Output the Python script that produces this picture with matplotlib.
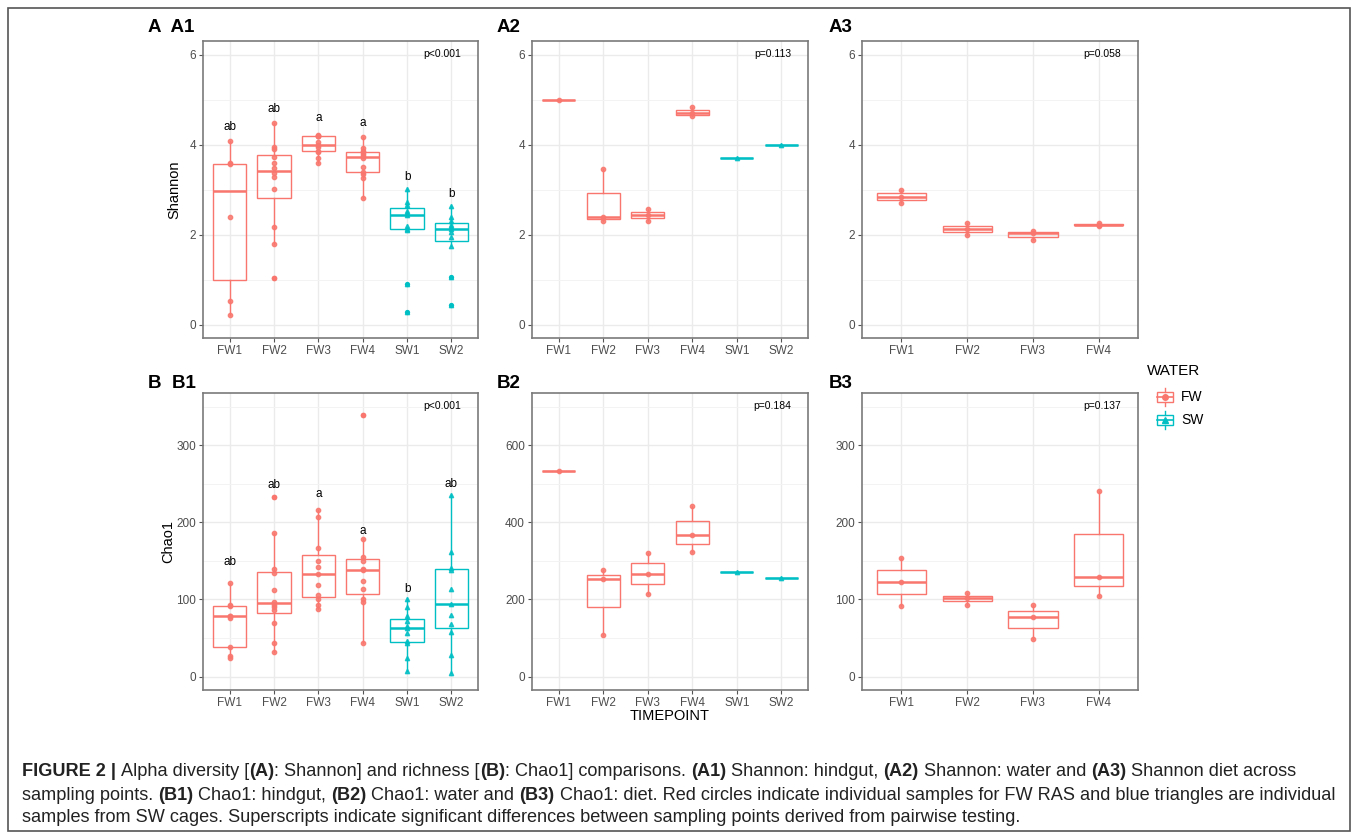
import numpy as np
import matplotlib
matplotlib.use('Agg')
import matplotlib.pyplot as plt
from matplotlib.patches import Rectangle
from matplotlib import font_manager

# categories
timepoints6 = ['FW1', 'FW2', 'FW3', 'FW4', 'SW1', 'SW2']
timepoints4 = ['FW1', 'FW2', 'FW3', 'FW4']

# A1 Shannon: hindgut
a1_groups = [
    [0.21, 0.52, 2.39, 3.56, 3.58, 4.07],
    [1.04, 1.78, 2.16, 3.02, 3.28, 3.36, 3.47, 3.58, 3.73, 3.91, 3.95, 4.48],
    [3.58, 3.69, 3.84, 3.86, 3.95, 4.0, 4.05, 4.18, 4.19, 4.2, 4.22],
    [2.82, 3.25, 3.35, 3.40, 3.5, 3.7, 3.75, 3.78, 3.83, 3.86, 3.92, 4.17],
    [0.28, 0.89, 2.1, 2.13, 2.2, 2.43, 2.47, 2.52, 2.65, 2.73, 3.02],
    [0.44, 1.05, 1.75, 1.95, 2.05, 2.13, 2.17, 2.22, 2.3, 2.4, 2.63],
]
a1_letters = ['ab', 'ab', 'a', 'a', 'b', 'b']
a1_letter_y = [4.38, 4.79, 4.58, 4.48, 3.28, 2.9]

# A2 Shannon: water
a2_groups = [[4.98], [2.3, 2.39, 3.45], [2.3, 2.43, 2.56], [4.63, 4.69, 4.83], [3.70], [3.98]]
# A3 Shannon: diet
a3_groups = [[2.69, 2.84, 2.99], [1.99, 2.12, 2.26], [1.87, 2.04, 2.08], [2.2, 2.21, 2.26]]

# B1 Chao1: hindgut
b1_groups = [
    [24, 26, 38, 76, 78, 79, 92, 93, 121],
    [32, 43, 70, 86, 90, 93, 97, 112, 134, 140, 186, 233],
    [88, 93, 100, 106, 119, 133, 142, 150, 166, 207, 216],
    [43, 96, 100, 114, 124, 138, 140, 150, 155, 178, 339],
    [7, 24, 44, 46, 56, 63, 66, 72, 78, 90, 100],
    [5, 28, 58, 68, 80, 94, 113, 138, 141, 162, 235],
]
b1_letters = ['ab', 'ab', 'a', 'a', 'b', 'ab']
b1_letter_y = [148, 248, 237, 188, 113, 249]

# B2 Chao1: water
b2_groups = [[532], [108, 253, 275], [215, 267, 319], [322, 366, 442], [270], [255]]
# B3 Chao1: diet
b3_groups = [[91, 122, 153], [93, 102, 108], [49, 77, 93], [105, 129, 241]]

p_values = ['p<0.001', 'p=0.113', 'p=0.058', 'p<0.001', 'p=0.184', 'p=0.137']

FW_COL = '#F8766D'
SW_COL = '#00BFC4'

W, H = 1358, 835
plt.rcParams['font.family'] = ['Liberation Sans', 'DejaVu Sans']
fig = plt.figure(figsize=(W / 100, H / 100), dpi=100)


def px_axes(left, top, right, bottom):
    return fig.add_axes([left / W, 1 - bottom / H, (right - left) / W, (bottom - top) / H])


def draw_panel(ax, cats, groups, ylim, major, minor, ptext, letters=None, letter_y=None):
    for i, (cat, vals) in enumerate(zip(cats, groups)):
        col = FW_COL if cat.startswith('FW') else SW_COL
        mk = 'o' if cat.startswith('FW') else '^'
        ax.boxplot([vals], positions=[i + 1], widths=0.75, showcaps=False,
                   patch_artist=True,
                   boxprops=dict(facecolor='none', edgecolor=col, lw=1.0),
                   medianprops=dict(color=col, lw=1.8),
                   whiskerprops=dict(color=col, lw=1.0),
                   flierprops=dict(marker='o', markerfacecolor=col,
                                   markeredgecolor='none', markersize=3.8))
        ax.plot(np.full(len(vals), i + 1), vals, ls='none', marker=mk,
                color=col, ms=3.1, alpha=0.85, zorder=3)
    if letters is not None:
        for i, (lt, ly) in enumerate(zip(letters, letter_y)):
            ax.text(i + 1, ly, lt, ha='center', va='center', fontsize=8.5)
    ax.set_xlim(0.4, len(cats) + 0.6)
    ax.set_ylim(*ylim)
    ax.set_xticks(range(1, len(cats) + 1))
    ax.set_xticklabels(cats)
    ax.set_yticks(major)
    ax.set_yticks(minor, minor=True)
    ax.tick_params(which='minor', left=False)
    ax.grid(which='major', color='#EBEBEB', lw=1.0)
    ax.grid(which='minor', axis='y', color='#F3F3F3', lw=0.7)
    ax.set_axisbelow(True)
    for s in ax.spines.values():
        s.set_color('#7A7A7A')
        s.set_linewidth(1.2)
    ax.tick_params(which='major', length=3, color='#555555', labelcolor='#4D4D4D',
                   labelsize=8.5, pad=2)
    ax.text(0.94, 0.955, ptext, transform=ax.transAxes, ha='right', va='center',
            fontsize=7.5)


a_lim, a_major, a_minor = (-0.3, 6.3), [0, 2, 4, 6], [1, 3, 5]
b_lim, b_major, b_minor = (-17.5, 367.5), [0, 100, 200, 300], [50, 150, 250, 350]
b2_lim, b2_major, b2_minor = (-35, 735), [0, 200, 400, 600], [100, 300, 500, 700]

ax_a1 = px_axes(203, 41, 478, 338)
ax_a2 = px_axes(532, 41, 808, 338)
ax_a3 = px_axes(862, 41, 1138, 338)
ax_b1 = px_axes(203, 393, 478, 690)
ax_b2 = px_axes(532, 393, 808, 690)
ax_b3 = px_axes(862, 393, 1138, 690)

draw_panel(ax_a1, timepoints6, a1_groups, a_lim, a_major, a_minor, p_values[0], a1_letters, a1_letter_y)
draw_panel(ax_a2, timepoints6, a2_groups, a_lim, a_major, a_minor, p_values[1])
draw_panel(ax_a3, timepoints4, a3_groups, a_lim, a_major, a_minor, p_values[2])
draw_panel(ax_b1, timepoints6, b1_groups, b_lim, b_major, b_minor, p_values[3], b1_letters, b1_letter_y)
draw_panel(ax_b2, timepoints6, b2_groups, b2_lim, b2_major, b2_minor, p_values[4])
draw_panel(ax_b3, timepoints4, b3_groups, b_lim, b_major, b_minor, p_values[5])

ax_a1.set_ylabel('Shannon', fontsize=10.5, labelpad=6)
ax_b1.set_ylabel('Chao1', fontsize=10.5, labelpad=1)
ax_b2.set_xlabel('TIMEPOINT', fontsize=10.5, labelpad=0)

# overlay in pixel coordinates for labels, legend and frame
over = fig.add_axes([0, 0, 1, 1])
over.set_xlim(0, W)
over.set_ylim(H, 0)
over.axis('off')

for lab, x, y in [('A  A1', 148, 27), ('A2', 497, 27), ('A3', 829, 27),
                  ('B  B1', 148, 384), ('B2', 497, 384), ('B3', 829, 384)]:
    over.text(x, y, lab, fontsize=13.5, fontweight='bold', ha='left', va='center')

# legend
over.text(1147, 371, 'WATER', fontsize=11, ha='left', va='center')
for lab, col, mk, ky in [('FW', FW_COL, 'o', 397), ('SW', SW_COL, '^', 420)]:
    kx = 1165
    over.add_patch(Rectangle((kx - 8, ky - 5), 16, 10, fill=False, edgecolor=col, lw=1.0))
    over.plot([kx, kx], [ky - 9, ky - 5], color=col, lw=1.0)
    over.plot([kx, kx], [ky + 5, ky + 9], color=col, lw=1.0)
    over.plot([kx - 8, kx + 8], [ky, ky], color=col, lw=1.2)
    over.plot([kx], [ky], marker=mk, color=col, ms=4)
    over.text(1181, ky, lab, fontsize=10, ha='left', va='center')

# outer frame
over.add_patch(Rectangle((8, 8), W - 16, H - 12, fill=False, edgecolor='#555555', lw=1.2))

# caption with bold runs
cap_lines = [
    [('FIGURE 2 |', 'bold'), (' Alpha diversity [', 'normal'), ('(A)', 'bold'),
     (': Shannon] and richness [', 'normal'), ('(B)', 'bold'),
     (': Chao1] comparisons. ', 'normal'), ('(A1)', 'bold'),
     (' Shannon: hindgut, ', 'normal'), ('(A2)', 'bold'), (' Shannon: water and ', 'normal'),
     ('(A3)', 'bold'), (' Shannon diet across', 'normal')],
    [('sampling points. ', 'normal'), ('(B1)', 'bold'), (' Chao1: hindgut, ', 'normal'),
     ('(B2)', 'bold'), (' Chao1: water and ', 'normal'), ('(B3)', 'bold'),
     (' Chao1: diet. Red circles indicate individual samples for FW RAS and blue triangles are individual',
      'normal')],
    [('samples from SW cages. Superscripts indicate significant differences between sampling points derived from pairwise testing.',
      'normal')],
]
cap_y = [772, 795, 818]

cap_fams = ['Liberation Sans Narrow', 'Liberation Sans']
avail = {f.name for f in font_manager.fontManager.ttflist}
cap_fam = [f for f in cap_fams if f in avail][:1] + ['DejaVu Sans']

renderer = fig.canvas.get_renderer()


def line_width(runs, fs):
    tot = 0
    for txt, wt in runs:
        t = over.text(0, 0, txt.replace(' ', '\u00a0'), fontsize=fs, fontweight=wt, family=cap_fam)
        tot += t.get_window_extent(renderer).width
        t.remove()
    return tot


fs0 = 10
w0 = line_width(cap_lines[1], fs0)
cap_fs = fs0 * 1316 / w0

for runs, y in zip(cap_lines, cap_y):
    x = 22
    for txt, wt in runs:
        t = over.text(x, y, txt.replace(' ', '\u00a0'), fontsize=cap_fs, fontweight=wt,
                      family=cap_fam, ha='left', va='center', color='#222222')
        x += t.get_window_extent(renderer).width

fig.savefig('out.png', dpi=100)
